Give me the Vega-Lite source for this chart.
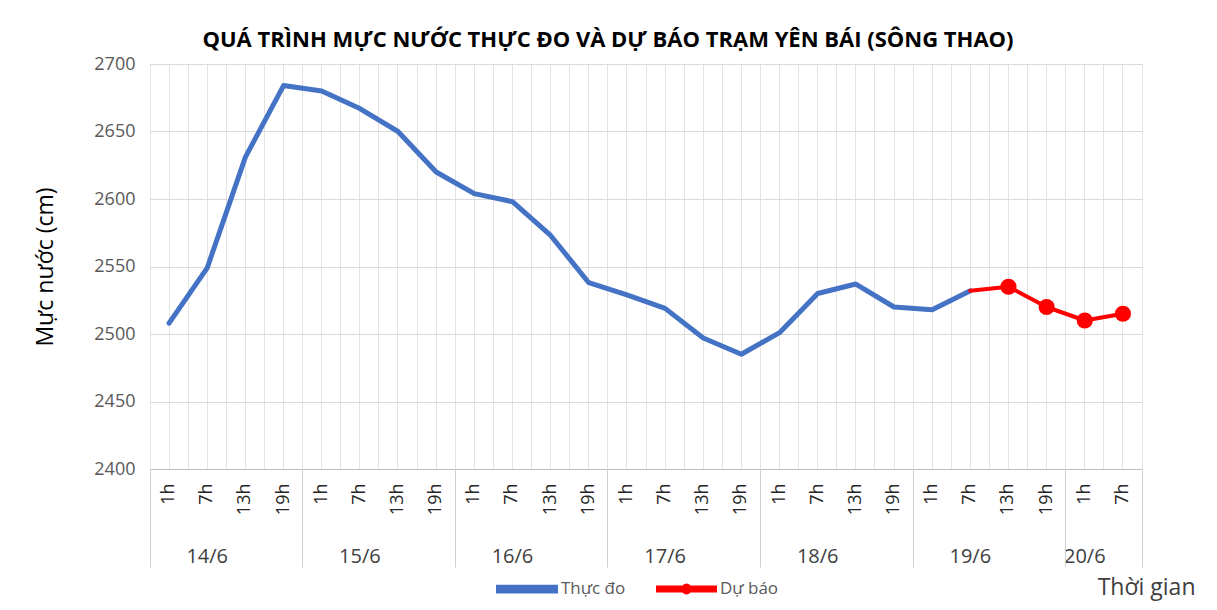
{
  "$schema": "https://vega.github.io/schema/vega-lite/v6.json",
  "width": 992,
  "height": 405,
  "autosize": {"type": "none"},
  "padding": {"left": 150, "top": 64, "right": 75, "bottom": 141},
  "background": "#ffffff",
  "title": {
    "text": "QUÁ TRÌNH MỰC NƯỚC THỰC ĐO VÀ DỰ BÁO TRẠM YÊN BÁI (SÔNG THAO)",
    "font": "Open Sans",
    "fontSize": 22,
    "fontWeight": "bold",
    "color": "#000000",
    "anchor": "middle",
    "dx": -38,
    "offset": 3
  },
  "data": {
    "values": [
      {"key": "14/6 1h", "series": "Thực đo", "value": 2508},
      {"key": "14/6 7h", "series": "Thực đo", "value": 2549},
      {"key": "14/6 13h", "series": "Thực đo", "value": 2631},
      {"key": "14/6 19h", "series": "Thực đo", "value": 2684},
      {"key": "15/6 1h", "series": "Thực đo", "value": 2680},
      {"key": "15/6 7h", "series": "Thực đo", "value": 2667},
      {"key": "15/6 13h", "series": "Thực đo", "value": 2650},
      {"key": "15/6 19h", "series": "Thực đo", "value": 2620},
      {"key": "16/6 1h", "series": "Thực đo", "value": 2604},
      {"key": "16/6 7h", "series": "Thực đo", "value": 2598},
      {"key": "16/6 13h", "series": "Thực đo", "value": 2573},
      {"key": "16/6 19h", "series": "Thực đo", "value": 2538},
      {"key": "17/6 1h", "series": "Thực đo", "value": 2529},
      {"key": "17/6 7h", "series": "Thực đo", "value": 2519},
      {"key": "17/6 13h", "series": "Thực đo", "value": 2497},
      {"key": "17/6 19h", "series": "Thực đo", "value": 2485},
      {"key": "18/6 1h", "series": "Thực đo", "value": 2501},
      {"key": "18/6 7h", "series": "Thực đo", "value": 2530},
      {"key": "18/6 13h", "series": "Thực đo", "value": 2537},
      {"key": "18/6 19h", "series": "Thực đo", "value": 2520},
      {"key": "19/6 1h", "series": "Thực đo", "value": 2518},
      {"key": "19/6 7h", "series": "Thực đo", "value": 2532},
      {"key": "19/6 7h", "series": "Dự báo", "value": 2532},
      {"key": "19/6 13h", "series": "Dự báo", "value": 2535},
      {"key": "19/6 19h", "series": "Dự báo", "value": 2520},
      {"key": "20/6 1h", "series": "Dự báo", "value": 2510},
      {"key": "20/6 7h", "series": "Dự báo", "value": 2515}
    ]
  },
  "encoding": {
    "y": {
      "field": "value",
      "type": "quantitative",
      "scale": {"domain": [2400, 2700], "zero": false, "nice": false},
      "axis": {
        "values": [2400, 2450, 2500, 2550, 2600, 2650, 2700],
        "format": "d",
        "title": "Mực nước (cm)",
        "titleFont": "Open Sans",
        "titleFontSize": 23,
        "titleFontWeight": "normal",
        "titleColor": "#000000",
        "titlePadding": 36,
        "labelFont": "Open Sans",
        "labelFontSize": 18,
        "labelColor": "#595959",
        "labelPadding": 15,
        "ticks": false,
        "domain": false,
        "grid": true,
        "gridColor": "#d9d9d9"
      }
    }
  },
  "layer": [
    {
      "mark": {"type": "line", "strokeCap": "round", "strokeJoin": "round"},
      "encoding": {
        "x": {
          "field": "key",
          "type": "ordinal",
          "bandPosition": 0.5,
          "sort": ["14/6 1h","14/6 7h","14/6 13h","14/6 19h","15/6 1h","15/6 7h","15/6 13h","15/6 19h","16/6 1h","16/6 7h","16/6 13h","16/6 19h","17/6 1h","17/6 7h","17/6 13h","17/6 19h","18/6 1h","18/6 7h","18/6 13h","18/6 19h","19/6 1h","19/6 7h","19/6 13h","19/6 19h","20/6 1h","20/6 7h"],
          "scale": {
            "type": "band",
            "domain": ["14/6 1h","14/6 7h","14/6 13h","14/6 19h","15/6 1h","15/6 7h","15/6 13h","15/6 19h","16/6 1h","16/6 7h","16/6 13h","16/6 19h","17/6 1h","17/6 7h","17/6 13h","17/6 19h","18/6 1h","18/6 7h","18/6 13h","18/6 19h","19/6 1h","19/6 7h","19/6 13h","19/6 19h","20/6 1h","20/6 7h"],
            "paddingInner": 0,
            "paddingOuter": 0
          },
          "axis": {
            "orient": "bottom",
            "title": null,
            "bandPosition": 0.5,
            "labelExpr": "split(datum.value, ' ')[1]",
            "labelAngle": 270,
            "labelFont": "Open Sans",
            "labelFontSize": 18,
            "labelColor": "#262626",
            "labelPadding": 14,
            "labelOverlap": false,
            "ticks": false,
            "domain": true,
            "domainColor": "#bfbfbf",
            "domainWidth": 1,
            "grid": true,
            "gridColor": "#e3e3e3"
          }
        },
        "color": {
          "field": "series",
          "type": "nominal",
          "scale": {"domain": ["Thực đo", "Dự báo"], "range": ["#4472C4", "#FF0000"]},
          "legend": {
            "orient": "none",
            "legendX": 346,
            "legendY": 494,
            "direction": "horizontal",
            "title": null,
            "symbolType": "stroke",
            "symbolSize": 3249,
            "symbolStrokeWidth": 5,
            "labelFont": "Open Sans",
            "labelFontSize": 17,
            "labelColor": "#595959",
            "labelOffset": 3,
            "columnPadding": 24,
            "encode": {
              "symbols": {
                "update": {
                  "shape": {"signal": "datum.value === 'Dự báo' ? 'M-1,-0.05L1,-0.05L1,0.05L-1,0.05Z M0.12,0A0.12,0.12 0 1,1 -0.12,0A0.12,0.12 0 1,1 0.12,0Z' : 'M-1,-0.065L1,-0.065L1,0.065L-1,0.065Z'"},
                  "fill": {"signal": "datum.value === 'Dự báo' ? '#FF0000' : '#4472C4'"},
                  "stroke": {"value": "transparent"},
                  "strokeWidth": {"value": 0}
                }
              }
            }
          }
        },
        "strokeWidth": {
          "field": "series",
          "type": "nominal",
          "scale": {"domain": ["Thực đo", "Dự báo"], "range": [5, 4]},
          "legend": null
        }
      }
    },
    {
      "transform": [{"filter": "datum.series === 'Dự báo' && datum.key !== '19/6 7h'"}],
      "mark": {"type": "point", "filled": true, "opacity": 1, "size": 260, "color": "#FF0000"},
      "encoding": {
        "x": {
          "field": "key",
          "type": "ordinal",
          "bandPosition": 0.5,
          "scale": {"type": "band", "paddingInner": 0, "paddingOuter": 0},
          "axis": {
            "orient": "bottom",
            "title": null,
            "bandPosition": 0,
            "labels": false,
            "ticks": false,
            "domain": false,
            "grid": true,
            "gridColor": "#e3e3e3"
          }
        }
      }
    },
    {
      "mark": {"type": "point", "opacity": 0},
      "encoding": {
        "x": {
          "field": "key",
          "type": "ordinal",
          "bandPosition": 0.5,
          "scale": {"type": "band", "paddingInner": 0, "paddingOuter": 0},
          "axis": {
            "orient": "bottom",
            "values": ["14/6 7h", "15/6 7h", "16/6 7h", "17/6 7h", "18/6 7h", "19/6 7h", "20/6 1h"],
            "bandPosition": 1,
            "labelExpr": "split(datum.value, ' ')[0]",
            "labelAngle": 0,
            "labelAlign": "center",
            "labelBaseline": "middle",
            "labelFont": "Open Sans",
            "labelFontSize": 20,
            "labelColor": "#404040",
            "labelPadding": 87,
            "labelOverlap": false,
            "ticks": false,
            "domain": false,
            "grid": false,
            "title": "Thời gian",
            "titleFont": "Open Sans",
            "titleFontSize": 23,
            "titleFontWeight": "normal",
            "titleColor": "#404040",
            "titleAlign": "right",
            "titleBaseline": "middle",
            "titleAnchor": "end",
            "titleX": 1045,
            "titleY": 118
          }
        }
      }
    },
    {
      "mark": {"type": "point", "opacity": 0},
      "encoding": {
        "x": {
          "field": "key",
          "type": "ordinal",
          "bandPosition": 0.5,
          "scale": {"type": "band", "paddingInner": 0, "paddingOuter": 0},
          "axis": {
            "orient": "bottom",
            "values": ["14/6 1h", "15/6 1h", "16/6 1h", "17/6 1h", "18/6 1h", "19/6 1h", "20/6 1h"],
            "bandPosition": 0,
            "labels": false,
            "ticks": true,
            "tickSize": 98,
            "tickColor": "#d0d0d0",
            "domain": false,
            "grid": false,
            "title": null
          }
        }
      }
    },
    {
      "mark": {"type": "point", "opacity": 0},
      "encoding": {
        "x": {
          "field": "key",
          "type": "ordinal",
          "bandPosition": 0.5,
          "scale": {"type": "band", "paddingInner": 0, "paddingOuter": 0},
          "axis": {
            "orient": "bottom",
            "values": ["20/6 7h"],
            "bandPosition": 1,
            "labels": false,
            "ticks": true,
            "tickSize": 98,
            "tickColor": "#d0d0d0",
            "domain": false,
            "grid": true,
            "gridColor": "#e3e3e3",
            "title": null
          }
        }
      }
    }
  ],
  "resolve": {"axis": {"x": "independent"}},
  "config": {
    "font": "Open Sans",
    "view": {"stroke": "#e3e3e3"}
  }
}
